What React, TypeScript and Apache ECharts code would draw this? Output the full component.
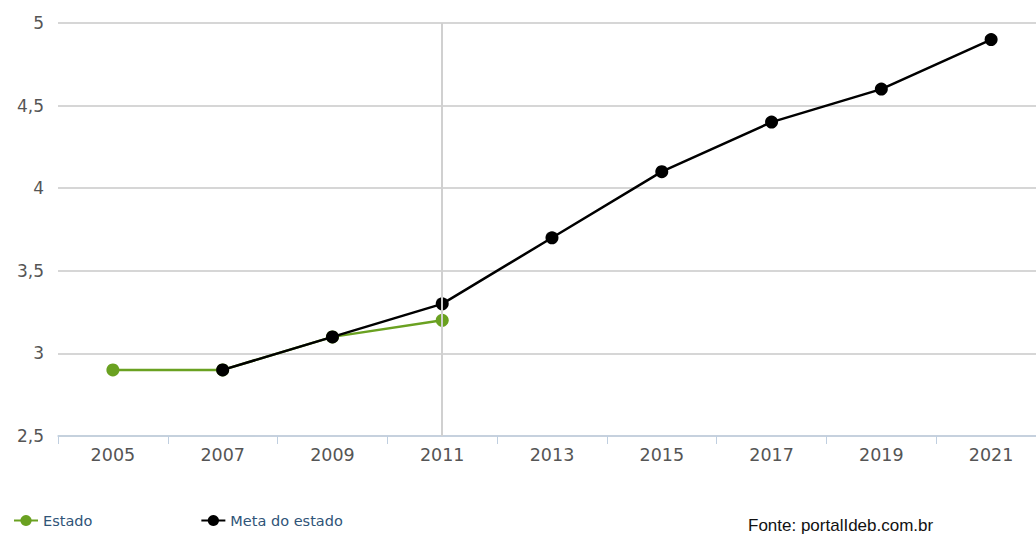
import React, { useEffect, useRef } from "react";
import * as echarts from "echarts";

const years = ["2005", "2007", "2009", "2011", "2013", "2015", "2017", "2019", "2021"];
const estado = [2.9, 2.9, 3.1, 3.2, null, null, null, null, null];
const metaEstado = [null, 2.9, 3.1, 3.3, 3.7, 4.1, 4.4, 4.6, 4.9];
const seriesNames = ["Estado", "Meta do estado"];
const sourceText = "Fonte: portalIdeb.com.br";

export default function App() {
  const ref = useRef<HTMLDivElement>(null);
  useEffect(() => {
    document.body.style.margin = "0";
    document.body.style.overflow = "hidden";
    const chart = echarts.init(ref.current!, null, { renderer: "svg" });
    chart.setOption({
      animation: false,
      backgroundColor: "#ffffff",
      grid: { left: 58, right: 0, top: 23, bottom: 100, containLabel: false },
      legend: {
        left: 8,
        bottom: 3,
        itemWidth: 24,
        itemHeight: 14,
        itemGap: 108,
        textStyle: { color: "#2f5478", fontFamily: "DejaVu Sans", fontSize: 14.5 },
        data: seriesNames,
      },
      xAxis: {
        type: "category",
        data: years,
        boundaryGap: true,
        axisLine: { lineStyle: { color: "#c0cfe0", width: 1.5 } },
        axisTick: { show: true, length: 8, lineStyle: { color: "#c0cfe0" } },
        axisLabel: { color: "#555", fontFamily: "DejaVu Sans", fontSize: 17.5, margin: 10 },
        splitLine: { show: false },
      },
      yAxis: {
        type: "value",
        min: 2.5,
        max: 5,
        interval: 0.5,
        axisLine: { show: false },
        axisTick: { show: false },
        axisLabel: {
          color: "#555",
          fontFamily: "DejaVu Sans",
          fontSize: 17,
          margin: 14,
          formatter: (v: number) => String(v).replace(".", ","),
        },
        splitLine: { lineStyle: { color: "#c8c8c8", width: 1.5 } },
      },
      series: [
        {
          name: seriesNames[0],
          type: "line",
          data: estado,
          color: "#6aa121",
          symbol: "circle",
          symbolSize: 13,
          lineStyle: { width: 2.5, color: "#6aa121" },
          itemStyle: { color: "#6aa121" },
          markLine: {
            silent: true,
            symbol: "none",
            label: { show: false },
            lineStyle: { color: "#d0d0d0", width: 2, type: "solid" },
            data: [{ xAxis: "2011" }],
          },
          z: 2,
        },
        {
          name: seriesNames[1],
          type: "line",
          data: metaEstado,
          color: "#000000",
          symbol: "circle",
          symbolSize: 13,
          lineStyle: { width: 2.5, color: "#000000" },
          itemStyle: { color: "#000000" },
          z: 3,
        },
      ],
      graphic: [
        {
          type: "text",
          left: 748,
          top: 517,
          style: { text: sourceText, fill: "#111", font: "17px 'Liberation Sans', Arial, sans-serif" },
        },
      ],
    });
    return () => chart.dispose();
  }, []);
  return <div ref={ref} style={{ width: 1046, height: 536 }} />;
}
